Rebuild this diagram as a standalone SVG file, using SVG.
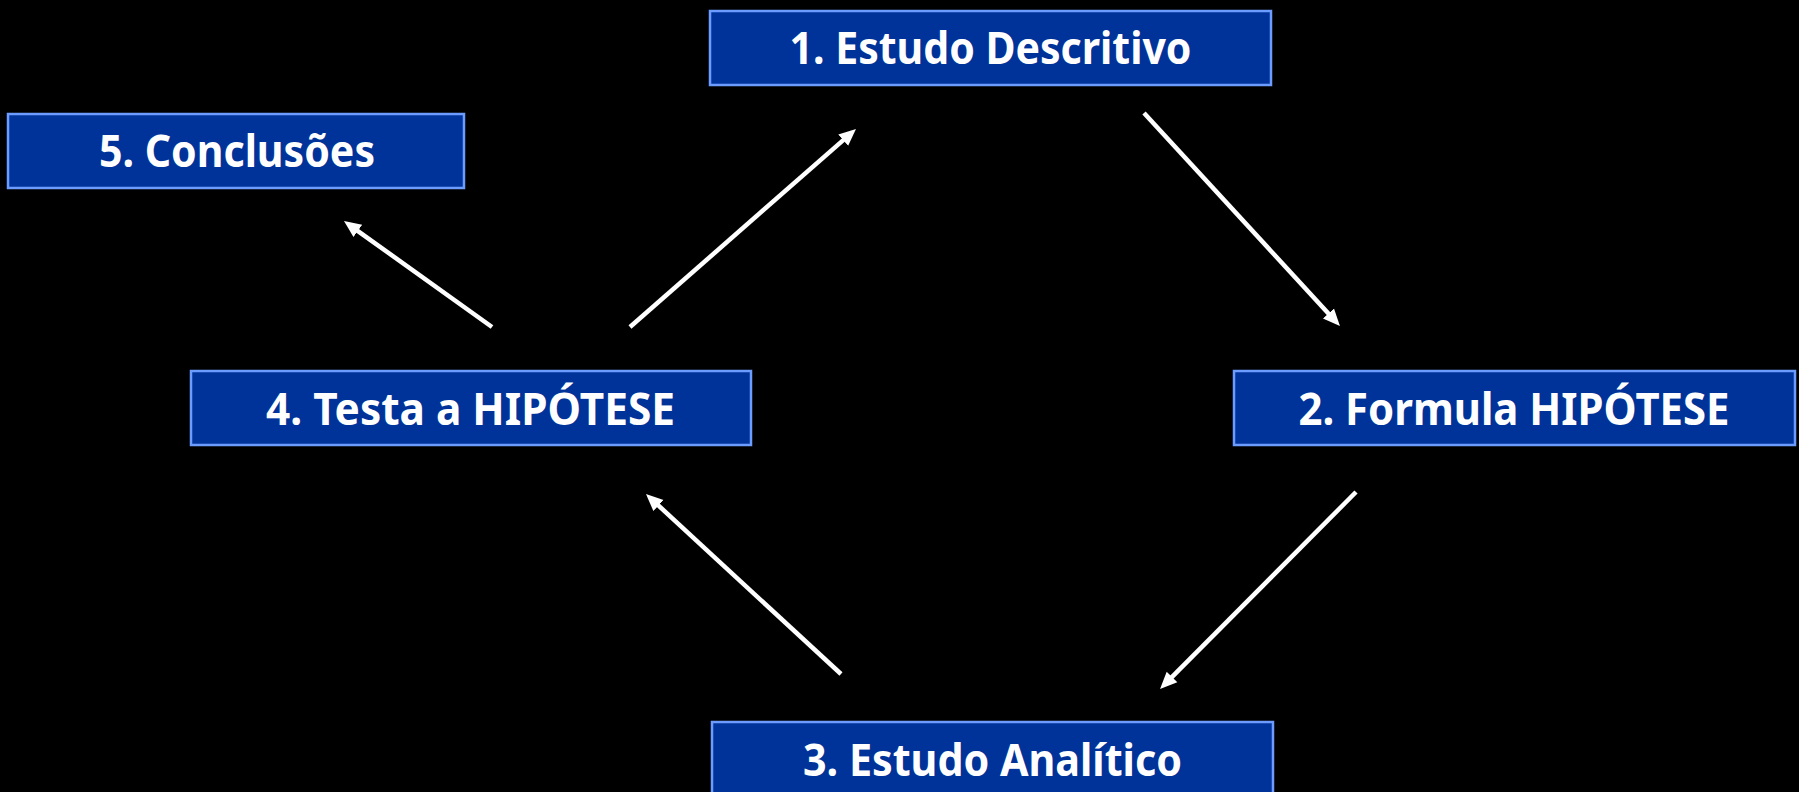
<svg xmlns="http://www.w3.org/2000/svg" width="1799" height="792" viewBox="0 0 1799 792">
  <defs>
    <style>
      .box { fill: #003399; stroke: #6C9CFF; stroke-width: 2.5; }
      .lbl { fill: #FFFFFF; font-family: "Noto Sans", "Open Sans", "DejaVu Sans", sans-serif; font-weight: bold; font-size: 44px; text-anchor: middle; }
      .arr { stroke: #FFFFFF; stroke-width: 4.5; fill: none; marker-end: url(#head); }
    </style>
    <marker id="head" markerUnits="userSpaceOnUse" markerWidth="19" markerHeight="18" refX="2" refY="9" orient="auto" viewBox="0 0 19 18">
      <path d="M0,1.5 L17,9 L0,16.5 Z" fill="#FFFFFF"/>
    </marker>
  </defs>
  <rect x="0" y="0" width="1799" height="792" fill="#000000"/>

  <g id="connectors">
    <line class="arr" x1="492" y1="327" x2="356.2" y2="229.8"/>
    <line class="arr" x1="630" y1="327" x2="844.7" y2="138.9"/>
    <line class="arr" x1="1144" y1="113" x2="1329.8" y2="315.0"/>
    <line class="arr" x1="1356" y1="492" x2="1170.6" y2="678.4"/>
    <line class="arr" x1="841" y1="674" x2="657.0" y2="504.2"/>
  </g>

  <g id="node1">
    <rect class="box" x="710" y="11" width="561" height="74"/>
    <text class="lbl" x="990.5" y="64" textLength="402" lengthAdjust="spacingAndGlyphs">1. Estudo Descritivo</text>
  </g>
  <g id="node2">
    <rect class="box" x="1234" y="371" width="561" height="74"/>
    <text class="lbl" x="1514" y="424.5" textLength="431" lengthAdjust="spacingAndGlyphs">2. Formula HIPÓTESE</text>
  </g>
  <g id="node3">
    <rect class="box" x="712" y="722" width="561" height="74"/>
    <text class="lbl" x="992.5" y="775.5" textLength="379" lengthAdjust="spacingAndGlyphs">3. Estudo Analítico</text>
  </g>
  <g id="node4">
    <rect class="box" x="191" y="371" width="560" height="74"/>
    <text class="lbl" x="470.5" y="424.5" textLength="409" lengthAdjust="spacingAndGlyphs">4. Testa a HIPÓTESE</text>
  </g>
  <g id="node5">
    <rect class="box" x="8" y="114" width="456" height="74"/>
    <text class="lbl" x="237" y="167" textLength="276" lengthAdjust="spacingAndGlyphs">5. Conclusões</text>
  </g>
</svg>
